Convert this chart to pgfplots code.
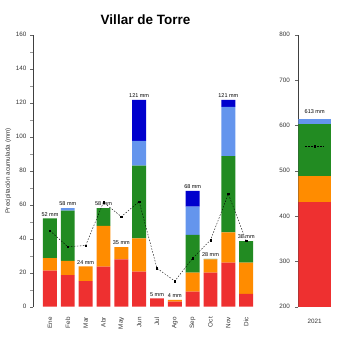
\documentclass[border=0pt]{standalone}
\usepackage{fontspec}
\setmainfont{Liberation Sans}
\usepackage{pgfplots}
\pgfplotsset{compat=1.18}
\definecolor{cRed}{RGB}{238,48,48}
\definecolor{cOrange}{RGB}{255,140,0}
\definecolor{cGreen}{RGB}{34,139,34}
\definecolor{cLBlue}{RGB}{100,149,237}
\definecolor{cDBlue}{RGB}{0,0,205}
\begin{document}
\begin{tikzpicture}[x=1pt,y=1pt]
\path (0,0) rectangle (350,350);
\node[font=\bfseries\fontsize{13.5}{15}\selectfont] at (145.5,330) {Villar de Torre};
\pgfplotsset{
  mybase/.style={
    scale only axis, width=223pt, height=272pt,
    xmin=-0.95, xmax=11.55, ymin=0, ymax=160,
    /pgf/number format/assume math mode=true,
  }
}
% bars
\begin{axis}[mybase, at={(33pt,43.3pt)}, anchor=south west,
  ybar stacked, bar width=0.78,
  axis lines*=left, axis line style={-, black!75},
  x axis line style={draw=none},
  xtick={0,...,11},
  xticklabels={Ene,Feb,Mar,Abr,May,Jun,Jul,Ago,Sep,Oct,Nov,Dic},
  x tick style={draw=none},
  xticklabel style={rotate=90, anchor=east, font=\fontsize{6.3}{7}\selectfont, text=black!80},
  xticklabel shift=4pt,
  ytick={0,20,...,160}, minor ytick={10,30,...,150},
  tick align=outside, major tick length=3pt, minor tick length=3pt,
  y tick style={black!60}, minor y tick style={black!40},
  yticklabel style={font=\fontsize{6.3}{7}\selectfont, text=black!80},
  ylabel={Precipitación acumulada (mm)},
  ylabel style={font=\fontsize{6.3}{7}\selectfont, text=black!80},
  ylabel shift=-2pt,
]
\addplot[fill=cRed, draw=none] coordinates {(0,21.2) (1,18.6) (2,15.1) (3,23.5) (4,27.8) (5,20.6) (6,4.9) (7,3) (8,8.8) (9,20) (10,25.9) (11,7.6)};
\addplot[fill=cOrange, draw=none] coordinates {(0,7.3) (1,8.4) (2,8.6) (3,24) (4,7.2) (5,19.6) (6,0) (7,1) (8,11.2) (9,7.8) (10,17.8) (11,18.3)};
\addplot[fill=cGreen, draw=none] coordinates {(0,23.5) (1,29.5) (2,0) (3,10.5) (4,0) (5,42.8) (6,0) (7,0) (8,22.2) (9,0.3) (10,44.9) (11,12.7)};
\addplot[fill=cLBlue, draw=none] coordinates {(0,0) (1,1.5) (2,0) (3,0) (4,0) (5,14.6) (6,0) (7,0) (8,16.6) (9,0) (10,29) (11,0)};
\addplot[fill=cDBlue, draw=none] coordinates {(0,0) (1,0) (2,0) (3,0) (4,0) (5,24) (6,0) (7,0) (8,9.4) (9,0) (10,4) (11,0)};
\end{axis}
% mean line and totals
\begin{axis}[mybase, at={(33pt,43.3pt)}, anchor=south west, hide axis, clip=false]
\addplot[black, dash pattern=on 1.5pt off 1.5pt, thin, mark=square*, mark size=0.7pt, mark options={solid}] coordinates {(0,44.7) (1,35.3) (2,36) (3,61.4) (4,53) (5,61.8) (6,22.6) (7,15.1) (8,28.5) (9,39.2) (10,66.3) (11,38.8)};
\addplot[draw=none, mark=none, nodes near coords, point meta=explicit symbolic,
  every node near coord/.append style={font=\fontsize{5.5}{6}\selectfont, anchor=south, inner sep=1pt, yshift=1pt}]
  coordinates {(0,52) [52 mm] (1,58) [58 mm] (2,23.7) [24 mm] (3,58) [58 mm] (4,35) [35 mm] (5,121.6) [121 mm] (6,4.9) [5 mm] (7,4) [4 mm] (8,68.2) [68 mm] (9,28) [28 mm] (10,121.6) [121 mm] (11,38.6) [38 mm]};
\end{axis}
% annual panel
\begin{axis}[scale only axis, width=32.7pt, height=272pt,
  at={(298.3pt,43.3pt)}, anchor=south west,
  xmin=-0.5, xmax=0.5, ymin=200, ymax=800,
  /pgf/number format/assume math mode=true,
  ybar stacked, bar width=1,
  axis lines*=left, axis line style={-, black!75},
  x axis line style={draw=none},
  xtick={0}, xticklabels={2021}, x tick style={draw=none},
  xticklabel style={font=\fontsize{6.3}{7}\selectfont, text=black!80},
  xticklabel shift=6pt,
  ytick={200,300,...,800},
  tick align=outside, major tick length=3pt,
  y tick style={black!60},
  yticklabel style={font=\fontsize{6.3}{7}\selectfont, text=black!80},
  yticklabel shift=2pt,
]
\addplot[fill=cRed, draw=none] coordinates {(0,430)};
\addplot[fill=cOrange, draw=none] coordinates {(0,59)};
\addplot[fill=cGreen, draw=none] coordinates {(0,114)};
\addplot[fill=cLBlue, draw=none] coordinates {(0,11)};
\end{axis}
\begin{axis}[scale only axis, width=32.7pt, height=272pt,
  at={(298.3pt,43.3pt)}, anchor=south west,
  xmin=-0.5, xmax=0.5, ymin=200, ymax=800, hide axis, clip=false]
\addplot[black, dash pattern=on 1.5pt off 1.5pt, thin, mark=square*, mark size=0.7pt, mark options={solid}, mark indices={2}] coordinates {(-0.28,554) (0,554) (0.28,554)};
\addplot[draw=none, mark=none, nodes near coords, point meta=explicit symbolic,
  every node near coord/.append style={font=\fontsize{5.5}{6}\selectfont, anchor=south, inner sep=1pt, yshift=4pt}]
  coordinates {(0,614) [613 mm]};
\end{axis}
\end{tikzpicture}
\end{document}
